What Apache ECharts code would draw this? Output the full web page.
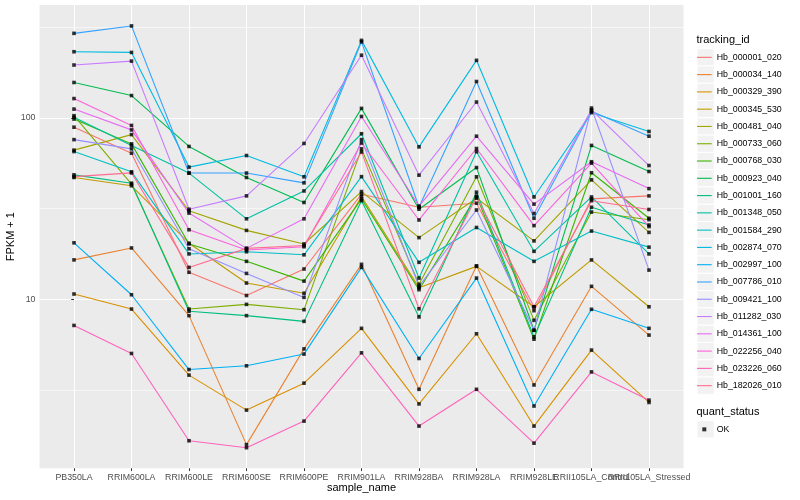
<!DOCTYPE html>
<html><head><meta charset="utf-8">
<script src="https://cdn.jsdelivr.net/npm/echarts@6/dist/echarts.min.js"></script>
<style>html,body{margin:0;padding:0;background:#fff}#c{width:800px;height:500px}</style>
</head><body><div id="c"></div>
<script>
const categories = ['PB350LA','RRIM600LA','RRIM600LE','RRIM600SE','RRIM600PE','RRIM901LA','RRIM928BA','RRIM928LA','RRIM928LE','RRII105LA_Control','RRII105LA_Stressed'];

const seriesNames = ['Hb_000001_020','Hb_000034_140','Hb_000329_390','Hb_000345_530','Hb_000481_040','Hb_000733_060','Hb_000768_030','Hb_000923_040','Hb_001001_160','Hb_001348_050','Hb_001584_290','Hb_002874_070','Hb_002997_100','Hb_007786_010','Hb_009421_100','Hb_011282_030','Hb_014361_100','Hb_022256_040','Hb_023226_060','Hb_182026_010'];

const seriesColors = ['#F8766D','#EA8331','#D89000','#C09B00','#A3A500','#7CAE00','#39B600','#00BB4E','#00BF7D','#00C1A3','#00BFC4','#00BAE0','#00B0F6','#35A2FF','#9590FF','#C77CFF','#E76BF3','#FA62DB','#FF62BC','#FF6C91'];

// FPKM + 1 per sample, in category order
const hb_000001_020 = [89, 64, 14.1, 10.5, 14.7, 38.0, 32.2, 33.9, 8.66, 35.8, 37.2];
const hb_000034_140 = [16.5, 19.2, 8.13, 1.58, 5.33, 15.6, 3.19, 15.3, 3.37, 11.8, 6.35];
const hb_000329_390 = [10.7, 8.84, 3.82, 2.45, 3.45, 6.92, 2.65, 6.46, 2.0, 5.25, 2.7];
const hb_000345_530 = [47, 42.3, 20.4, 12.3, 10.8, 36.9, 11.6, 15.2, 9.1, 16.5, 9.1];
const hb_000481_040 = [66.5, 81, 30.8, 24.0, 20.2, 39.3, 21.9, 36.1, 21.0, 45.6, 23.4];
const hb_000733_060 = [103, 43.2, 8.84, 9.38, 8.77, 67.6, 12.1, 47.4, 7.66, 30.3, 27.5];
const hb_000768_030 = [98.7, 72, 20.2, 16.2, 12.6, 35.8, 11.3, 37.1, 6.03, 49.9, 28.0];
const hb_000923_040 = [157, 133, 69.7, 47, 34.2, 113, 31.4, 53.3, 6.75, 70.6, 50.7];
const hb_001001_160 = [48.6, 43.7, 8.6, 8.13, 7.56, 35.0, 8.0, 39.0, 6.21, 32.2, 25.7];
const hb_001348_050 = [101, 70.6, 49.7, 27.8, 39.6, 81.9, 13.1, 65.2, 18.4, 36.7, 17.8];
const hb_001584_290 = [65.3, 50.5, 17.8, 18.3, 17.6, 47.5, 16.0, 24.9, 16.2, 23.8, 19.4];
const hb_002874_070 = [232, 230, 53.6, 62.1, 47.4, 268, 69.3, 208, 36.7, 107, 84.3];
const hb_002997_100 = [20.5, 10.6, 4.1, 4.3, 4.99, 15.0, 4.72, 13.1, 2.58, 8.81, 6.92];
const hb_007786_010 = [293, 322, 49.7, 49.7, 43.9, 263, 32.2, 159, 28.0, 109, 79.4];
const hb_009421_100 = [76, 67.6, 19.0, 13.9, 10.25, 76.0, 11.8, 31.1, 6.75, 113.5, 14.5];
const hb_011282_030 = [196, 206, 31.4, 37.2, 72.4, 222, 48.4, 122.5, 29.7, 111, 54.7];
const hb_014361_100 = [112, 86, 29.9, 19.1, 27.8, 102, 32.7, 79.4, 33.5, 57.4, 40.8];
const hb_022256_040 = [128, 91, 24.2, 18.7, 19.5, 72.8, 27.4, 67.9, 25.5, 56.4, 25.2];
const hb_023226_060 = [7.18, 5.03, 1.66, 1.52, 2.13, 5.07, 2.0, 3.19, 1.61, 3.98, 2.78];
const hb_182026_010 = [47.5, 49.8, 15.0, 19.1, 19.8, 65.0, 8.87, 36.7, 9.1, 35.0, 31.3];

const seriesValues = [hb_000001_020, hb_000034_140, hb_000329_390, hb_000345_530, hb_000481_040, hb_000733_060, hb_000768_030, hb_000923_040, hb_001001_160, hb_001348_050, hb_001584_290, hb_002874_070, hb_002997_100, hb_007786_010, hb_009421_100, hb_011282_030, hb_014361_100, hb_022256_040, hb_023226_060, hb_182026_010];

const yTicks = [10, 100];
const yMinorTicks = [3.1623, 31.623, 316.23];
const xTickIdx = categories.map((c, i) => i);
// labels split over two axes so overlapping neighbours are both kept, as in the reference
const xLabelIdxA = xTickIdx.filter(i => i % 2 === 0);
const xLabelIdxB = xTickIdx.filter(i => i % 2 === 1);
const statusName = 'OK';

const FONT = '"Liberation Sans", Arial, Helvetica, sans-serif';

const lineSeries = seriesNames.map((name, k) => ({
  name: name,
  type: 'line',
  data: seriesValues[k].map((v, i) => [i, v]),
  symbol: 'none',
  showSymbol: false,
  color: seriesColors[k],
  lineStyle: { width: 1.1, color: seriesColors[k] },
  itemStyle: { color: seriesColors[k] },
  emphasis: { disabled: true },
  silent: true,
  z: 2
}));

const okPoints = [];
seriesValues.forEach(vals => vals.forEach((v, i) => okPoints.push([i, v])));

const KEY_TOP = 48.7, KEY_H = 17.28, KEY_LEFT = 697, ICON_W = 14.7;
const keyPath = 'path://M0,0 M14.7,17.28 M0,8.09 L14.7,8.09 L14.7,9.19 L0,9.19 Z';
const okPath = 'path://M0,0 M14.7,17.28 M5.3,6.64 L9.3,6.64 L9.3,10.64 L5.3,10.64 Z';

const keyRects = seriesNames.map((n, i) => ({
  type: 'rect',
  shape: { x: KEY_LEFT, y: KEY_TOP + KEY_H * i, width: KEY_H, height: KEY_H },
  style: { fill: '#F2F2F2', stroke: '#FFFFFF', lineWidth: 1 },
  silent: true, z: 0
}));
keyRects.push({
  type: 'rect',
  shape: { x: KEY_LEFT, y: 420.7, width: KEY_H, height: KEY_H },
  style: { fill: '#F2F2F2', stroke: '#FFFFFF', lineWidth: 1 },
  silent: true, z: 0
});

const xLabelStyle = { fontSize: 8.8, color: '#4D4D4D', margin: 4.5, hideOverlap: false, showMinLabel: true, showMaxLabel: true, fontFamily: FONT, formatter: v => categories[Math.round(v)] };

const chart = echarts.init(document.getElementById('c'), null, { renderer: 'canvas' });
chart.setOption({
  animation: false,
  backgroundColor: '#FFFFFF',
  textStyle: { fontFamily: FONT },
  title: [
    { text: 'tracking_id', left: 696.5, top: 34.5, padding: 0, textStyle: { fontSize: 11, fontWeight: 'normal', color: '#000', fontFamily: FONT } },
    { text: 'quant_status', left: 696.5, top: 406, padding: 0, textStyle: { fontSize: 11, fontWeight: 'normal', color: '#000', fontFamily: FONT } }
  ],
  graphic: keyRects,
  legend: [
    {
      data: seriesNames,
      orient: 'vertical', left: KEY_LEFT, top: KEY_TOP, padding: 0,
      itemWidth: ICON_W, itemHeight: KEY_H, itemGap: 0,
      icon: keyPath, selectedMode: false,
      itemStyle: { borderWidth: 0 },
      textStyle: { fontSize: 8.8, color: '#000', fontFamily: FONT }
    },
    {
      data: [statusName],
      orient: 'vertical', left: KEY_LEFT, top: 420.7, padding: 0,
      itemWidth: ICON_W, itemHeight: KEY_H, itemGap: 0,
      icon: okPath, selectedMode: false,
      itemStyle: { borderWidth: 0 },
      textStyle: { fontSize: 8.8, color: '#000', fontFamily: FONT }
    }
  ],
  grid: {
    left: 39.5, top: 5, width: 644, height: 463.3,
    show: true, backgroundColor: '#EBEBEB', borderWidth: 0,
    containLabel: false, outerBoundsMode: 'none'
  },
  xAxis: [
    {
      type: 'value', min: -0.6, max: 10.6, position: 'bottom',
      name: 'sample_name', nameLocation: 'middle', nameGap: 14.5, nameMoveOverlap: false,
      nameTextStyle: { fontSize: 11, color: '#000', fontFamily: FONT },
      axisLine: { show: false },
      axisTick: { show: true, length: 2.75, lineStyle: { color: '#333333', width: 1 }, customValues: xTickIdx },
      axisLabel: Object.assign({ show: true, customValues: xLabelIdxA }, xLabelStyle),
      splitLine: { show: true, lineStyle: { color: '#FFFFFF', width: 1.07 } }
    },
    {
      type: 'value', min: -0.6, max: 10.6, position: 'bottom', offset: 0,
      axisLine: { show: false },
      axisTick: { show: false, customValues: xLabelIdxB },
      axisLabel: Object.assign({ show: true, customValues: xLabelIdxB }, xLabelStyle),
      splitLine: { show: false }
    }
  ],
  yAxis: [
    {
      type: 'log', logBase: 10, min: 1.17, max: 420,
      name: 'FPKM + 1', nameLocation: 'middle', nameGap: 23, nameRotate: 90, nameMoveOverlap: false,
      nameTextStyle: { fontSize: 11, color: '#000', fontFamily: FONT },
      axisLine: { show: false },
      axisTick: { show: true, length: 2.75, lineStyle: { color: '#333333', width: 1 }, customValues: yTicks },
      axisLabel: { show: true, customValues: yTicks, formatter: v => String(Math.round(v)), fontSize: 8.8, color: '#4D4D4D', margin: 4, showMinLabel: true, showMaxLabel: true, fontFamily: FONT },
      splitLine: { show: true, lineStyle: { color: '#FFFFFF', width: 1.07 } },
      minorSplitLine: { show: false }
    },
    {
      type: 'log', logBase: 10, min: 1.17, max: 420, position: 'left',
      axisLine: { show: false },
      axisTick: { show: false, customValues: yMinorTicks },
      axisLabel: { show: false, customValues: yMinorTicks },
      splitLine: { show: true, lineStyle: { color: '#FFFFFF', width: 0.55 } }
    }
  ],
  series: lineSeries.concat([{
    name: statusName,
    type: 'scatter',
    data: okPoints,
    symbol: 'rect',
    symbolSize: 3.6,
    color: '#000000',
    itemStyle: { color: '#000000' },
    emphasis: { disabled: true },
    silent: true,
    z: 3
  }])
});
</script>
</body></html>
